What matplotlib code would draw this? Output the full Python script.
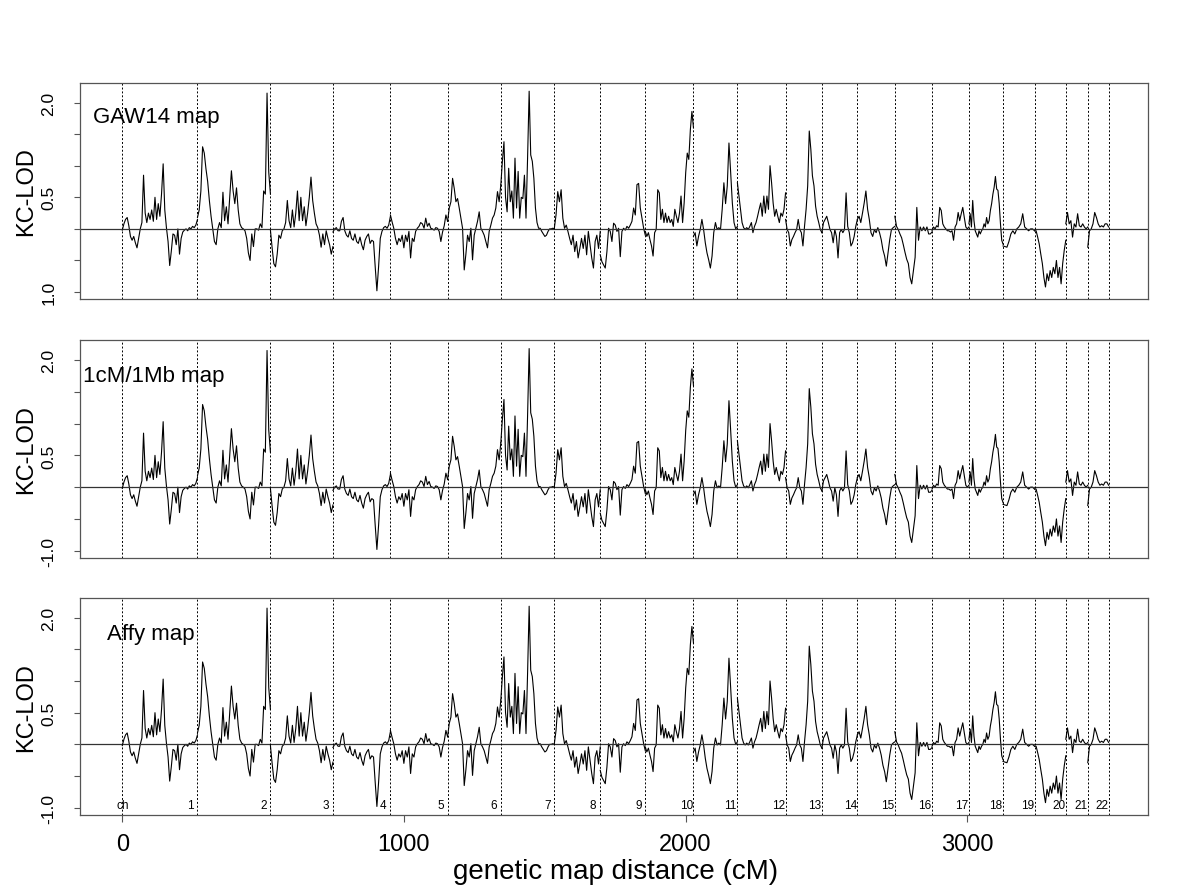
import matplotlib.pyplot as plt
import numpy as np

plt.rcParams['font.family'] = ['Liberation Sans', 'DejaVu Sans']

# chromosome end positions on the genetic map (cM)
chrom_end = [267, 526, 748, 952, 1155, 1344, 1534, 1697, 1857, 2028, 2184,
             2355, 2484, 2610, 2743, 2875, 3006, 3127, 3239, 3350, 3428, 3502]
chrom_labels = [str(i) for i in range(1, 23)]
map_names = ["GAW14 map", "1cM/1Mb map", "Affy map"]

# KC-LOD values along each chromosome
lod_chr1 = [-0.02, 0.08, 0.15, 0.18, 0.05, -0.12, -0.18, -0.12, -0.22, -0.30, -0.15, 0.00,
            0.10, 0.85, 0.25, 0.10, 0.25, 0.15, 0.30, 0.12, 0.50, 0.15, 0.40, 0.20, 0.55,
            1.03, 0.30, 0.02, -0.20, -0.58, -0.35, -0.08, -0.10, -0.25, 0.00, -0.40, -0.15,
            -0.05, -0.02, 0.00, -0.03, 0.02, 0.00, 0.04, 0.02, 0.06, 0.15]
lod_chr2 = [0.18, 0.30, 0.60, 1.30, 1.20, 0.95, 0.75, 0.45, 0.20, 0.00, -0.20, -0.25, 0.00,
            0.10, 0.02, 0.58, 0.13, 0.35, 0.08, 0.50, 0.92, 0.60, 0.40, 0.65, 0.30, 0.08,
            0.02, 0.00, -0.03, -0.15, -0.38, -0.50, -0.08, -0.28, 0.00, 0.00, -0.02, 0.08,
            0.02, 0.60, 0.55, 2.15, 0.90, 0.55]
lod_chr3 = [-0.02, -0.30, -0.55, -0.60, -0.40, -0.10, -0.15, -0.03, 0.00, 0.10, 0.45, 0.13,
            0.02, 0.30, 0.03, 0.25, 0.60, 0.13, 0.50, 0.13, 0.35, 0.05, 0.25, 0.50, 0.82,
            0.45, 0.25, 0.08, 0.02, -0.10, -0.29, -0.08, -0.25, -0.03, -0.15, -0.25, -0.40,
            -0.28]
lod_chr4 = [-0.05, 0.00, 0.02, -0.03, -0.03, 0.12, 0.18, -0.03, -0.10, -0.13, -0.03, -0.15,
            -0.18, -0.08, -0.20, -0.23, -0.13, -0.25, -0.33, -0.18, -0.12, -0.08, -0.23,
            -0.18, -0.20, -0.60, -0.98, -0.60, -0.15, -0.04, 0.02, 0.04, 0.01, 0.06, 0.20]
lod_chr5 = [0.22, 0.11, 0.01, -0.15, -0.25, -0.15, -0.20, -0.10, -0.30, -0.10, -0.20, -0.04,
            -0.46, -0.15, -0.20, -0.04, 0.01, 0.04, 0.10, 0.08, 0.01, 0.17, 0.04, 0.09, 0.01,
            0.00, -0.02, 0.02, 0.01, -0.04, -0.20, -0.05, 0.05, 0.22, 0.12]
lod_chr6 = [0.12, 0.33, 0.43, 0.80, 0.64, 0.43, 0.48, 0.33, 0.17, 0.01, -0.65, -0.40, -0.10,
            -0.20, 0.01, -0.49, -0.10, 0.01, 0.12, 0.27, 0.01, -0.04, -0.10, -0.20, -0.30,
            -0.04, 0.06, 0.17, 0.22, 0.33, 0.59, 0.43, 0.70]
lod_chr7 = [0.70, 1.07, 1.38, 0.50, 0.27, 0.96, 0.43, 0.60, 0.17, 1.12, 0.33, 0.91, 0.17,
            0.50, 0.48, 0.85, 0.17, 1.12, 2.18, 1.17, 1.07, 0.80, 0.33, 0.10, 0.01, 0.01,
            -0.04, -0.08, -0.12, -0.10, -0.04, 0.00, 0.00, 0.01, 0.00]
lod_chr8 = [0.01, 0.22, 0.59, 0.43, 0.62, 0.17, 0.01, 0.06, -0.04, -0.15, -0.25, -0.10,
            -0.36, -0.20, -0.46, -0.31, -0.15, -0.31, -0.10, -0.41, -0.04, -0.25, -0.46,
            -0.62, -0.20, -0.10, -0.31, -0.04]
lod_chr9 = [-0.41, -0.52, -0.57, -0.62, -0.36, 0.01, -0.04, -0.20, 0.09, 0.06, -0.04, 0.01,
            -0.44, -0.04, 0.01, -0.02, 0.04, 0.01, 0.06, 0.12, 0.33, 0.22, 0.70, 0.72, 0.33,
            0.17, 0.01, -0.10]
lod_chr10 = [-0.04, -0.12, -0.06, -0.17, -0.27, -0.43, -0.06, -0.01, 0.62, 0.57, 0.15, 0.31,
             0.10, 0.25, 0.10, 0.20, 0.10, 0.15, 0.04, 0.31, 0.20, 0.10, 0.25, 0.52, 0.10,
             0.41, 0.89, 1.20, 1.10, 1.57, 1.86, 1.60]
lod_chr11 = [-0.12, -0.06, -0.27, -0.12, -0.01, 0.15, -0.01, -0.22, -0.38, -0.49, -0.62,
             -0.43, -0.06, 0.10, -0.01, 0.02, -0.01, 0.31, 0.73, 0.40, 0.68, 1.36, 0.90,
             0.41, 0.10, 0.00, 0.04]
lod_chr12 = [0.73, 0.52, 0.31, 0.10, 0.02, -0.01, 0.02, -0.01, 0.04, 0.10, -0.06, 0.04,
             0.10, 0.20, 0.31, 0.41, 0.20, 0.52, 0.25, 0.52, 0.31, 1.00, 0.73, 0.41, 0.20,
             0.31, 0.20, 0.10, 0.25, 0.20, 0.31, 0.57]
lod_chr13 = [0.15, -0.01, -0.06, -0.27, -0.17, -0.12, -0.06, -0.01, 0.15, -0.01, -0.06,
             -0.27, 0.04, 0.31, 0.68, 1.55, 1.26, 0.84, 0.68, 0.36, 0.20, 0.10, -0.01, -0.06]
lod_chr14 = [-0.06, 0.10, 0.15, 0.20, 0.10, -0.01, -0.06, -0.22, -0.01, -0.12, -0.46, -0.06,
             -0.01, -0.06, -0.01, 0.57, 0.04, -0.06, -0.27, -0.22, -0.12, 0.04, 0.15]
lod_chr15 = [0.15, 0.20, 0.10, 0.25, 0.41, 0.60, 0.31, 0.15, -0.06, -0.12, -0.01, -0.06,
             0.02, -0.06, -0.17, -0.33, -0.43, -0.59, -0.38, -0.17, -0.01, 0.02, 0.04]
lod_chr16 = [0.20, 0.04, -0.01, -0.08, -0.14, -0.25, -0.37, -0.48, -0.55, -0.77, -0.87,
             -0.66, -0.45, 0.34, -0.18, 0.03, -0.03, 0.03, -0.03, 0.03, -0.08, -0.08, -0.05]
lod_chr17 = [-0.03, 0.03, 0.00, 0.05, 0.03, 0.34, 0.29, 0.08, 0.03, 0.00, -0.03, -0.03,
             -0.05, -0.03, -0.18, 0.03, 0.08, 0.26, 0.13, 0.24, 0.34, 0.18, 0.03, 0.00, 0.03]
lod_chr18 = [0.08, 0.24, 0.03, 0.45, 0.13, -0.03, -0.08, -0.13, -0.03, -0.08, -0.03, 0.00,
             0.08, 0.03, 0.18, 0.08, 0.13, 0.29, 0.40, 0.55, 0.66, 0.83, 0.63, 0.61, 0.40,
             0.08, -0.18, -0.24]
lod_chr19 = [-0.27, -0.28, -0.29, -0.20, -0.08, -0.03, -0.08, 0.00, 0.03, 0.08, 0.24, 0.03,
             0.00, -0.03, 0.00, 0.00, -0.03]
lod_chr20 = [-0.03, -0.03, -0.13, -0.24, -0.40, -0.55, -0.77, -0.92, -0.71, -0.82, -0.66,
             -0.77, -0.61, -0.71, -0.50, -0.77, -0.61, -0.87, -0.55, -0.34, -0.18]
lod_chr21 = [0.08, 0.26, 0.08, 0.13, -0.13, 0.08, 0.03, 0.24, 0.05, 0.03, 0.08, 0.03, 0.00,
             0.03]
lod_chr22 = [-0.29, -0.03, 0.00, 0.08, 0.26, 0.18, 0.08, 0.03, 0.05, 0.03, 0.08, 0.08, 0.03]

lod_by_chr = [lod_chr1, lod_chr2, lod_chr3, lod_chr4, lod_chr5, lod_chr6, lod_chr7,
              lod_chr8, lod_chr9, lod_chr10, lod_chr11, lod_chr12, lod_chr13, lod_chr14,
              lod_chr15, lod_chr16, lod_chr17, lod_chr18, lod_chr19, lod_chr20, lod_chr21,
              lod_chr22]

fig = plt.figure(figsize=(12, 8.87), dpi=100)
panel_boxes = [[0.0667, 0.6618, 0.89, 0.2435],
               [0.0667, 0.3701, 0.89, 0.2451],
               [0.0667, 0.0804, 0.89, 0.2443]]
title_pos = [(-104, 1.78), (-140, 1.76), (-55, 1.75)]
starts = [0] + chrom_end[:-1]

for p, box in enumerate(panel_boxes):
    ax = fig.add_axes(box)
    for s, e, vals in zip(starts, chrom_end, lod_by_chr):
        xs = np.linspace(s, e, len(vals))
        ax.plot(xs, vals, color='black', lw=0.8)
    ax.axhline(0, color='#333333', lw=0.9)
    for b in [0] + chrom_end:
        ax.axvline(b, color='black', lw=0.7, linestyle=(0, (2, 2)))
    ax.set_xlim(-150, 3642)
    ax.set_ylim(-1.11, 2.31)
    for sp in ax.spines.values():
        sp.set_color('#555555')
        sp.set_linewidth(0.9)

    yt = [-1.0, -0.5, 0.0, 0.5, 1.0, 1.5, 2.0]
    low = "1.0" if p == 0 else "-1.0"
    ax.set_yticks(yt)
    ax.set_yticklabels([low, "", "", "0.5", "", "", "2.0"], rotation=90, va='center',
                       fontsize=12.5)
    ax.tick_params(axis='y', length=4, pad=13, color='#555555')

    ax.text(title_pos[p][0], title_pos[p][1], map_names[p], fontsize=16,
            ha='left', va='center')
    fig.text(0.022, box[1] + box[3] / 2, "KC-LOD", rotation=90, fontsize=17,
             ha='center', va='center')

    if p < 2:
        ax.set_xticks([])
    else:
        ax.set_xticks([0, 1000, 2000, 3000])
        ax.set_xticklabels(["0", "1000", "2000", "3000"], fontsize=17)
        ax.tick_params(axis='x', length=5, pad=8, color='#555555')
        ax.text(0, -0.95, "ch", fontsize=8.5, ha='center', va='center')
        for e, lab in zip(chrom_end, chrom_labels):
            ax.text(e - 25, -0.95, lab, fontsize=8.5, ha='center', va='center')

fig.text(0.513, 1 - 872 / 887, "genetic map distance (cM)", fontsize=20,
         ha='center', va='center')

fig.savefig("out.png", dpi=100)
